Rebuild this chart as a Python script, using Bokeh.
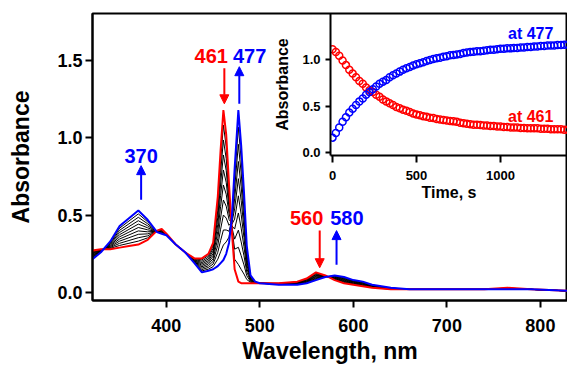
from bokeh.plotting import figure
from bokeh.models import Range1d, FixedTicker, Arrow, NormalHead, GridBox, Label, NumeralTickFormatter
from bokeh.embed import file_html
from bokeh.resources import INLINE

FONT = "Liberation Sans"

# ---------------- data: UV-vis spectra ----------------
wavelength = [320, 330, 340, 350, 360, 370, 380, 390, 395, 400,
              410, 420, 430, 438, 445, 450, 455, 458, 461, 464,
              467, 470, 473, 477, 480, 483, 486, 490, 495, 500,
              520, 540, 550, 560, 570, 580, 590, 600, 610, 620,
              640, 660, 700, 740, 765, 790, 830]

spec_initial = [.27, .28, .28, .29, .30, .31, .34, .40, .41, .38,
                .31, .26, .22, .22, .25, .32, .62, .92, 1.18, 1.02,
                .70, .40, .15, .07, .06, .06, .06, .06, .06, .06,
                .06, .07, .09, .13, .11, .08, .06, .05, .04, .03,
                .02, .02, .02, .02, .03, .02, .01]

spec_final = [.21, .26, .33, .43, .48, .53, .47, .39, .38, .37,
              .31, .26, .19, .13, .14, .15, .17, .19, .21, .25,
              .32, .48, .80, 1.18, .95, .65, .30, .11, .07, .06,
              .05, .05, .06, .08, .10, .11, .10, .08, .07, .05,
              .03, .02, .02, .02, .02, .02, .01]

spec_k1 = [.264, .278, .285, .304, .318, .332, .353, .399, .407, .379, .31, .26, .217, .211, .239, .303, .575, .847, 1.083, .943,
           .662, .408, .215, .181, .149, .119, .084, .065, .061, .06, .059, .068, .087, .125, .109, .083, .064, .053, .043, .032,
           .021, .02, .02, .02, .029, .02, .01]
spec_k2 = [.258, .276, .29, .318, .336, .354, .366, .398, .404, .378, .31, .26, .214, .202, .228, .286, .53, .774, .986, .866,
           .624, .416, .28, .292, .238, .178, .108, .07, .062, .06, .058, .066, .084, .12, .108, .086, .068, .056, .046, .034,
           .022, .02, .02, .02, .028, .02, .01]
spec_k3 = [.252, .274, .295, .332, .354, .376, .379, .397, .401, .377, .31, .26, .211, .193, .217, .269, .485, .701, .889, .789,
           .586, .424, .345, .403, .327, .237, .132, .075, .063, .06, .057, .064, .081, .115, .107, .089, .072, .059, .049, .036,
           .023, .02, .02, .02, .027, .02, .01]
spec_k4 = [.246, .272, .30, .346, .372, .398, .392, .396, .398, .376, .31, .26, .208, .184, .206, .252, .44, .628, .792, .712,
           .548, .432, .41, .514, .416, .296, .156, .08, .064, .06, .056, .062, .078, .11, .106, .092, .076, .062, .052, .038,
           .024, .02, .02, .02, .026, .02, .01]
spec_k5 = [.24, .27, .305, .36, .39, .42, .405, .395, .395, .375, .31, .26, .205, .175, .195, .235, .395, .555, .695, .635,
           .51, .44, .475, .625, .505, .355, .18, .085, .065, .06, .055, .06, .075, .105, .105, .095, .08, .065, .055, .04,
           .025, .02, .02, .02, .025, .02, .01]
spec_k6 = [.234, .268, .31, .374, .408, .442, .418, .394, .392, .374, .31, .26, .202, .166, .184, .218, .35, .482, .598, .558,
           .472, .448, .54, .736, .594, .414, .204, .09, .066, .06, .054, .058, .072, .10, .104, .098, .084, .068, .058, .042,
           .026, .02, .02, .02, .024, .02, .01]
spec_k7 = [.228, .266, .315, .388, .426, .464, .431, .393, .389, .373, .31, .26, .199, .157, .173, .201, .305, .409, .501, .481,
           .434, .456, .605, .847, .683, .473, .228, .095, .067, .06, .053, .056, .069, .095, .103, .101, .088, .071, .061, .044,
           .027, .02, .02, .02, .023, .02, .01]
spec_k8 = [.222, .264, .32, .402, .444, .486, .444, .392, .386, .372, .31, .26, .196, .148, .162, .184, .26, .336, .404, .404,
           .396, .464, .67, .958, .772, .532, .252, .10, .068, .06, .052, .054, .066, .09, .102, .104, .092, .074, .064, .046,
           .028, .02, .02, .02, .022, .02, .01]
spec_k9 = [.216, .262, .325, .416, .462, .508, .457, .391, .383, .371, .31, .26, .193, .139, .151, .167, .215, .263, .307, .327,
           .358, .472, .735, 1.069, .861, .591, .276, .105, .069, .06, .051, .052, .063, .085, .101, .107, .096, .077, .067, .048,
           .029, .02, .02, .02, .021, .02, .01]

black_spectra = [spec_k1, spec_k2, spec_k3, spec_k4, spec_k5, spec_k6, spec_k7, spec_k8, spec_k9]

x_ticks = [400, 500, 600, 700, 800]
y_ticks = [0.0, 0.5, 1.0, 1.5]

# ---------------- data: kinetics inset ----------------
time_s = [0, 20, 40, 60, 80, 100, 120, 140, 160, 180, 200, 220, 240, 260, 280, 300, 320, 340, 360, 380,
          400, 420, 440, 460, 480, 500, 520, 540, 560, 580, 600, 620, 640, 660, 680, 700, 720, 740, 760, 780,
          800, 820, 840, 860, 880, 900, 920, 940, 960, 980, 1000, 1020, 1040, 1060, 1080, 1100, 1120, 1140, 1160, 1180,
          1200, 1220, 1240, 1260, 1280, 1300, 1320, 1340, 1360, 1380, 1400]

abs_477 = [0.16, 0.21, 0.27, 0.33, 0.38, 0.43, 0.47, 0.51, 0.55, 0.58, 0.62, 0.65, 0.68, 0.71, 0.74, 0.76, 0.78, 0.81, 0.83, 0.85,
           0.87, 0.89, 0.905, 0.92, 0.935, 0.95, 0.96, 0.97, 0.985, 0.995, 1.005, 1.015, 1.02, 1.03, 1.035, 1.045, 1.05, 1.055, 1.06, 1.07,
           1.075, 1.08, 1.085, 1.09, 1.09, 1.095, 1.10, 1.105, 1.105, 1.11, 1.115, 1.115, 1.12, 1.12, 1.125, 1.125, 1.13, 1.13, 1.135, 1.135,
           1.14, 1.14, 1.145, 1.145, 1.15, 1.15, 1.15, 1.155, 1.155, 1.16, 1.16]

abs_461 = [1.11, 1.08, 1.04, 0.99, 0.94, 0.89, 0.85, 0.81, 0.77, 0.74, 0.70, 0.67, 0.65, 0.62, 0.60, 0.57, 0.55, 0.53, 0.51, 0.49,
           0.475, 0.46, 0.45, 0.435, 0.42, 0.41, 0.40, 0.39, 0.385, 0.375, 0.37, 0.36, 0.355, 0.35, 0.345, 0.34, 0.335, 0.33, 0.32, 0.315,
           0.31, 0.305, 0.30, 0.30, 0.295, 0.29, 0.29, 0.285, 0.285, 0.28, 0.28, 0.275, 0.275, 0.27, 0.27, 0.27, 0.265, 0.265, 0.26, 0.26,
           0.26, 0.26, 0.255, 0.255, 0.255, 0.25, 0.25, 0.25, 0.25, 0.245, 0.245]

inset_x_ticks = [0, 500, 1000]
inset_y_ticks = [0.0, 0.5, 1.0]


def style_axis(ax, tick_size, label_size, tick_len):
    ax.axis_line_width = 2
    ax.major_tick_line_width = 2
    ax.major_tick_out = tick_len
    ax.major_tick_in = 0
    ax.minor_tick_line_color = None
    ax.major_label_text_font = FONT
    ax.major_label_text_font_style = "bold"
    ax.major_label_text_font_size = tick_size
    ax.major_label_text_color = "black"
    ax.axis_label_text_font = FONT
    ax.axis_label_text_font_style = "bold"
    ax.axis_label_text_font_size = label_size
    ax.axis_label_text_color = "black"


# ---------------- main figure ----------------
p = figure(width=567, height=367, output_backend="svg", toolbar_location=None,
           x_range=Range1d(321, 829), y_range=Range1d(-0.052, 1.804),
           min_border_left=92, min_border_right=0, min_border_top=13, min_border_bottom=67,
           x_axis_label="Wavelength, nm", y_axis_label="Absorbance")
p.grid.visible = False
p.outline_line_color = "black"
p.outline_line_width = 2

for spec in black_spectra:
    p.line(wavelength, spec, line_color="black", line_width=1)
p.line(wavelength, spec_initial, line_color="red", line_width=2)
p.line(wavelength, spec_final, line_color="blue", line_width=2)

p.xaxis.ticker = FixedTicker(ticks=x_ticks)
p.yaxis.ticker = FixedTicker(ticks=y_ticks)
p.yaxis.formatter = NumeralTickFormatter(format="0.0")
style_axis(p.xaxis[0], "18px", "23px", 7)
style_axis(p.yaxis[0], "18px", "23px", 7)
p.xaxis.major_label_standoff = 11
p.xaxis.axis_label_standoff = 3
p.yaxis.major_label_standoff = 3
p.yaxis.axis_label_standoff = 20

annotations = [
    ("461", 448, 1.53, "red"),
    ("477", 489, 1.53, "blue"),
    ("370", 373, 0.88, "blue"),
    ("560", 550, 0.48, "red"),
    ("580", 593, 0.48, "blue"),
]
for txt, x, y, c in annotations:
    p.add_layout(Label(x=x, y=y, text=txt, text_color=c, text_font=FONT, text_font_style="bold",
                       text_font_size="20px", text_align="center", text_baseline="middle"))

arrows = [
    (462, 1.45, 1.22, "red"),
    (478, 1.22, 1.46, "blue"),
    (373, 0.60, 0.82, "blue"),
    (564, 0.40, 0.16, "red"),
    (582, 0.18, 0.40, "blue"),
]
for x, y0, y1, c in arrows:
    p.add_layout(Arrow(end=NormalHead(size=9, fill_color=c, line_color=c, line_width=1),
                       x_start=x, y_start=y0, x_end=x, y_end=y1, line_color=c, line_width=2))

# ---------------- inset figure ----------------
inset = figure(width=303, height=206, output_backend="svg", toolbar_location=None,
               x_range=Range1d(-12, 1399), y_range=Range1d(-0.032, 1.495),
               min_border_left=66, min_border_right=0, min_border_top=13, min_border_bottom=51,
               x_axis_label="Time, s", y_axis_label="Absorbance")
inset.grid.visible = False
inset.outline_line_color = None
inset.background_fill_alpha = 0
inset.border_fill_alpha = 0

inset.scatter(time_s, abs_461, marker="circle", size=7, fill_color=None, line_color="red", line_width=1.5)
inset.scatter(time_s, abs_477, marker="circle", size=7, fill_color=None, line_color="blue", line_width=1.5)

inset.xaxis.ticker = FixedTicker(ticks=inset_x_ticks)
inset.yaxis.ticker = FixedTicker(ticks=inset_y_ticks)
inset.yaxis.formatter = NumeralTickFormatter(format="0.0")
style_axis(inset.xaxis[0], "13px", "16px", 7)
style_axis(inset.yaxis[0], "13px", "16px", 5)
inset.xaxis.major_label_standoff = 8
inset.xaxis.axis_label_standoff = 1
inset.yaxis.major_label_standoff = 5
inset.yaxis.axis_label_standoff = 8

inset.add_layout(Label(x=1315, y=1.28, text="at 477", text_color="blue", text_font=FONT, text_font_style="bold",
                       text_font_size="16px", text_align="right", text_baseline="middle"))
inset.add_layout(Label(x=1315, y=0.39, text="at 461", text_color="red", text_font=FONT, text_font_style="bold",
                       text_font_size="16px", text_align="right", text_baseline="middle"))

layout = GridBox(children=[(p, 0, 0, 2, 2), (inset, 0, 1, 1, 1)],
                 rows=["206px", "161px"], cols=["264px", "303px"], spacing=0)

open("out.html", "w").write(file_html(layout, INLINE))
